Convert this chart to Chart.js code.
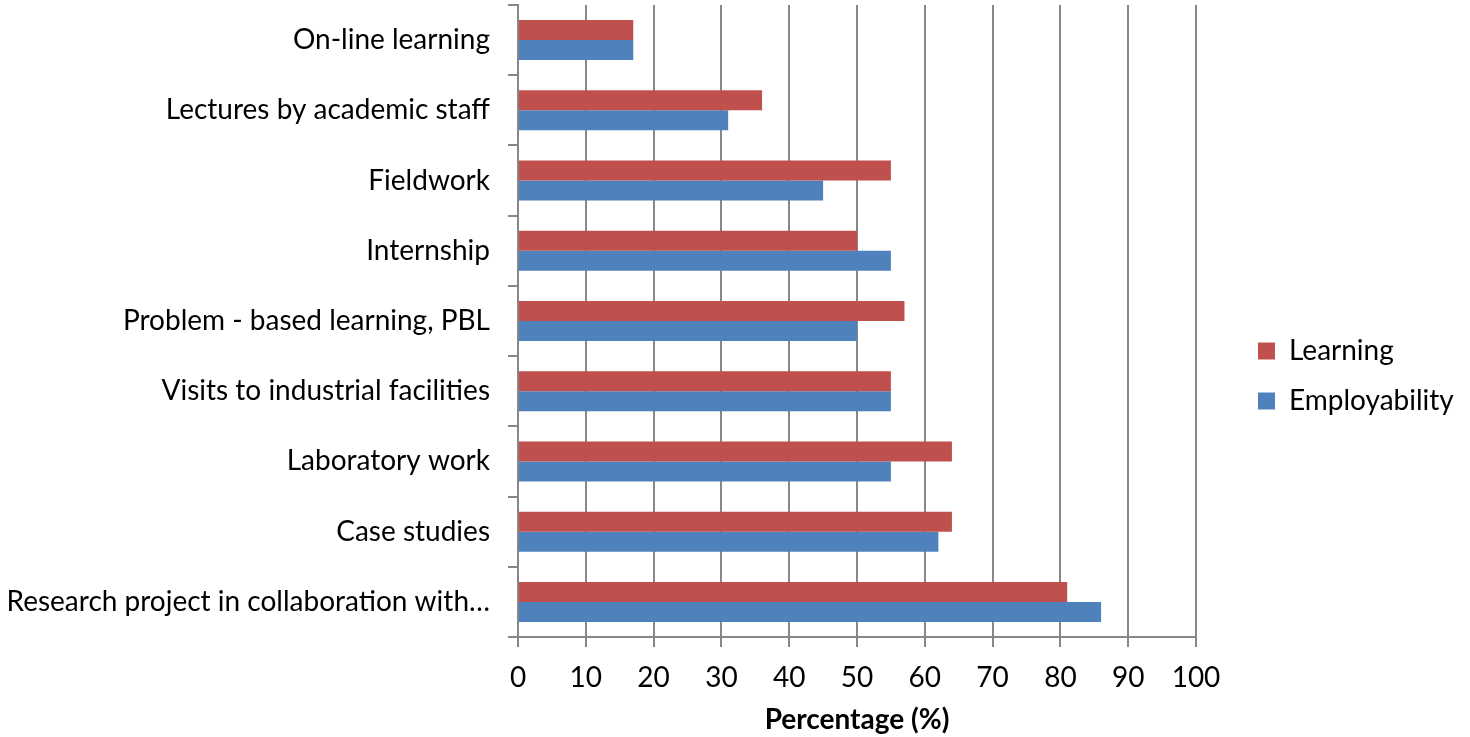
<!DOCTYPE html>
<html><head><meta charset="utf-8">
<script src="https://cdn.jsdelivr.net/npm/chart.js@4.4.1/dist/chart.umd.min.js"></script>
<style>html,body{margin:0;padding:0;background:#fff}#wrap{width:1470px;height:737px}</style>
</head><body><div id="wrap"><canvas id="c" width="1470" height="737"></canvas></div>
<script>
const categories = [
  "On-line learning",
  "Lectures by academic staff",
  "Fieldwork",
  "Internship",
  "Problem - based learning, PBL",
  "Visits to industrial facilities",
  "Laboratory work",
  "Case studies",
  "Research project in collaboration with\u2026"
];
const learning = [17, 36, 55, 50, 57, 55, 64, 64, 81];
const employability = [17, 31, 45, 55, 50, 55, 55, 62, 86];
const xTicks = [0, 10, 20, 30, 40, 50, 60, 70, 80, 90, 100];
const axisTitle = "Percentage (%)";

const GRID = '#878787';
const FONT = 'Lato';

const legendLayout = {
  id: 'legendLayout',
  afterInit(chart) {
    const lg = chart.legend;
    const orig = lg.fit.bind(lg);
    lg.fit = function () { orig(); this.width = 274; };
  },
  afterLayout(chart) {
    const lg = chart.legend;
    const shift = chart.chartArea.right + 62 - 22 - lg.left;
    lg.left += shift; lg.right += shift;
    lg.top += 5; lg.bottom += 5;
  }
};

new Chart(document.getElementById('c'), {
  type: 'bar',
  data: {
    labels: categories,
    datasets: [
      { label: 'Learning', data: learning, backgroundColor: '#C0504D', borderWidth: 0 },
      { label: 'Employability', data: employability, backgroundColor: '#4F81BD', borderWidth: 0 }
    ]
  },
  options: {
    indexAxis: 'y',
    responsive: false,
    animation: false,
    devicePixelRatio: 1,
    layout: { padding: { top: 5, left: 0, right: 0, bottom: 0 } },
    datasets: { bar: { categoryPercentage: 0.57, barPercentage: 1.0 } },
    plugins: {
      legend: {
        position: 'right',
        labels: {
          font: { family: FONT, size: 28 },
          color: '#000',
          boxWidth: 17,
          boxHeight: 17,
          padding: 22
        }
      },
      tooltip: { enabled: false }
    },
    scales: {
      x: {
        min: 0, max: 100,
        afterBuildTicks(scale) { scale.ticks = xTicks.map(v => ({ value: v })); },
        afterFit(scale) { scale.height = 100; scale.paddingLeft = 0; scale.paddingRight = 0; },
        grid: { color: GRID, lineWidth: 2, tickLength: 10, drawTicks: true },
        border: { display: true, color: GRID, width: 2 },
        ticks: { font: { family: FONT, size: 28 }, color: '#000', padding: 14, maxRotation: 0 },
        title: { display: true, text: axisTitle, font: { family: FONT, size: 28, weight: 'bold' }, color: '#000', padding: { top: 2, bottom: 0 } }
      },
      y: {
        afterFit(scale) { scale.width = 518; scale.paddingTop = 0; scale.paddingBottom = 0; },
        grid: { color: GRID, lineWidth: 2, tickLength: 10, drawOnChartArea: false, offset: true },
        border: { display: true, color: GRID, width: 2 },
        ticks: { font: { family: FONT, size: 28 }, color: '#000', padding: 18, autoSkip: false }
      }
    }
  },
  plugins: [legendLayout]
});
</script>
</body></html>
